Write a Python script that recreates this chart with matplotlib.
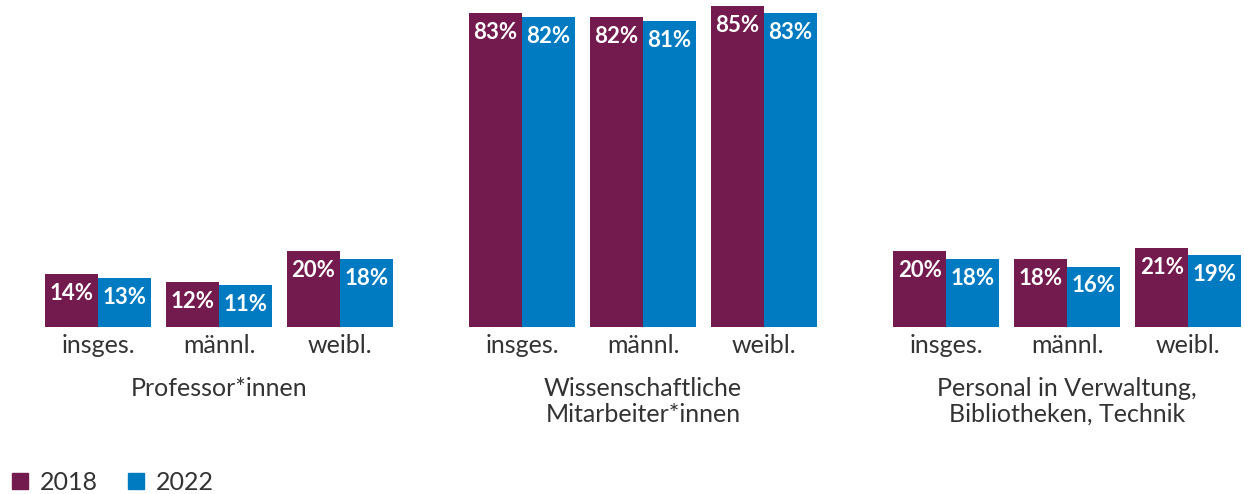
import numpy as np
import matplotlib.pyplot as plt
from matplotlib.lines import Line2D

plt.rcParams['font.family'] = ['Lato', 'DejaVu Sans']

groups = ['Professor*innen', 'Wissenschaftliche\nMitarbeiter*innen',
          'Personal in Verwaltung,\nBibliotheken, Technik']
cats = ['insges.', 'männl.', 'weibl.']
years = ['2018', '2022']
v2018 = [14, 12, 20, 83, 82, 85, 20, 18, 21]
v2022 = [13, 11, 18, 82, 81, 83, 18, 16, 19]

c2018 = '#731b4e'
c2022 = '#007bc2'
txt = '#333333'

fig = plt.figure(figsize=(12.44, 4.94), dpi=100)
ax = fig.add_axes([0, 0.338, 1, 0.662])

gstep = 8.0
cstep = 2.283
centers = []
for g in range(3):
    for c in range(3):
        centers.append(g*gstep + c*cstep)
centers = np.array(centers)

b1 = ax.bar(centers-0.5, v2018, width=1.0, color=c2018)
b2 = ax.bar(centers+0.5, v2022, width=1.0, color=c2022)

for bars, vals in ((b1, v2018), (b2, v2022)):
    for b, v in zip(bars, vals):
        ax.annotate(f'{v}%', (b.get_x()+b.get_width()/2, v), xytext=(0, -14),
                    textcoords='offset points', ha='center', va='center',
                    color='white', fontsize=16, fontweight='bold')

ax.set_xlim(-1.849, 21.62)
ax.set_ylim(0, 86.5)
ax.set_xticks(centers)
ax.set_xticklabels(cats*3, fontsize=18, color=txt)
ax.tick_params(axis='x', length=0, pad=5)
ax.set_yticks([])
for s in ax.spines.values():
    s.set_visible(False)

for g, name in enumerate(groups):
    xc = centers[g*3+1]
    ax.annotate(name, (xc, 0), xytext=(0, -36), textcoords='offset points',
                ha='center', va='top', fontsize=18, color=txt, linespacing=1.15,
                annotation_clip=False)

handles = [Line2D([], [], marker='s', linestyle='none', markersize=12, color=c2018),
           Line2D([], [], marker='s', linestyle='none', markersize=12, color=c2022)]
fig.legend(handles, years, loc='lower left', bbox_to_anchor=(-0.006, -0.03), ncol=2,
           frameon=False, fontsize=18, handletextpad=0.3, columnspacing=1.0,
           handlelength=1.0, labelcolor=txt, borderaxespad=0.2)

fig.savefig('out.png', dpi=100)
